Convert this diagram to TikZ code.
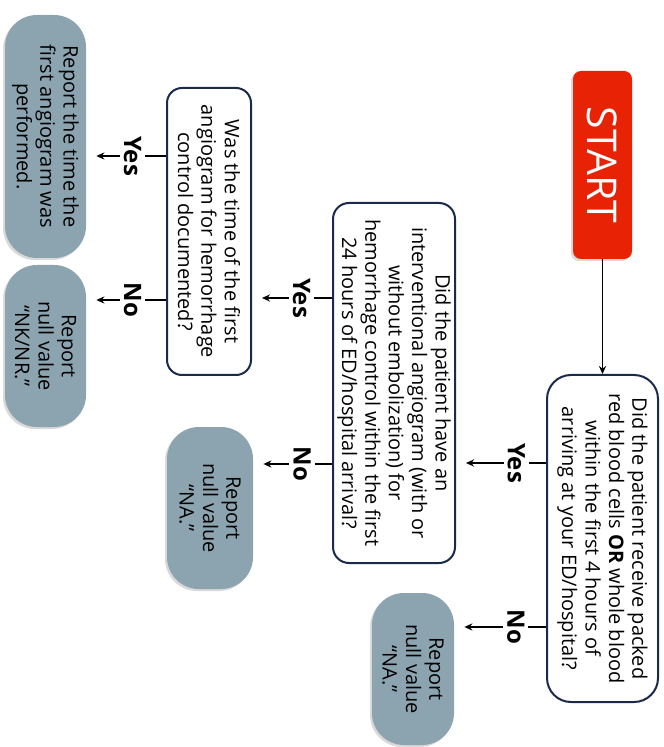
\documentclass[tikz,border=0pt]{standalone}
\usepackage{fontspec}
\setmainfont{Open Sans}
\usetikzlibrary{arrows.meta,positioning,calc,shadows}
\definecolor{startred}{RGB}{232,34,4}
\definecolor{qnavy}{RGB}{27,42,74}
\definecolor{rpgray}{RGB}{140,164,176}

\begin{document}
\begin{tikzpicture}[
  x=0.5pt, y=-0.5pt,
  >={Stealth[length=4pt,width=3.6pt]},
  every node/.style={align=center, rotate=-90},
  txt/.style     = {font=\fontsize{10}{11.7}\selectfont, text=black},
  startnd/.style = {fill=startred, rounded corners=4pt, text=white,
                    font=\fontsize{20.5}{24}\selectfont,
                    minimum width=94pt, minimum height=29.5pt,
                    drop shadow={shadow xshift=-1pt, shadow yshift=-1pt, opacity=.3}},
  qbox/.style    = {txt, draw=qnavy, line width=1pt, fill=white, inner sep=1pt},
  rpbox/.style   = {txt, fill=rpgray, rounded corners=16pt, inner sep=1pt,
                    drop shadow={shadow xshift=-1pt, shadow yshift=-1pt, opacity=.3}},
  yn/.style      = {font=\fontsize{12}{14}\selectfont\bfseries, fill=white, inner sep=2pt},
  flow/.style    = {->, line width=0.6pt},
  branch/.style  = {flow, shorten >=5pt}
]
\useasboundingbox (0,0) rectangle (663,747);

\node[startnd] (start) at (602.5,165) {START};
\node[qbox, rounded corners=12pt, minimum width=163.5pt, minimum height=55.5pt] (q1) at (602.5,538.5)
  {Did the patient receive packed\\ red blood cells \textbf{OR} whole blood\\
   within the first 4 hours of\\ arriving at your ED/hospital?};
\node[qbox, rounded corners=8pt, minimum width=180pt, minimum height=61pt] (q2) at (394,383)
  {Did the patient have an\\ interventional angiogram (with or\\ without embolization) for\\
   hemorrhage control within the first\\ 24 hours of ED/hospital arrival?};
\node[qbox, rounded corners=7.5pt, minimum width=143.5pt, minimum height=42pt] (q3) at (209,231.5)
  {Was the time of the first\\ angiogram for hemorrhage\\ control documented?};

\node[rpbox, minimum width=121.5pt, minimum height=40.5pt] (rtime) at (45.5,136.5)
  {Report the time the\\ first angiogram was\\ performed.};
\node[rpbox, minimum width=81pt, minimum height=40.5pt] (rnknr) at (45.5,346)
  {Report\\ null value\\ “NK/NR.”};
\node[rpbox, minimum width=81pt, minimum height=43pt] (rnaq2) at (210,508)
  {Report\\ null value\\ “NA.”};
\node[rpbox, minimum width=76pt, minimum height=41pt] (rnaq1) at (413,669)
  {Report\\ null value\\ “NA.”};

% branch heights
\coordinate (q1yes) at (0,463);
\coordinate (q1no)  at (0,627);
\coordinate (q2yes) at (0,298);
\coordinate (q2no)  at (0,464);
\coordinate (q3yes) at (0,156);
\coordinate (q3no)  at (0,300);

\draw[flow] (start) -- (q1);
\draw[branch] (q1.south |- q1yes) -- node[yn, pos=.33] {Yes} (q2.north |- q1yes);
\draw[branch] (q1.south |- q1no) -- node[yn, pos=.33] {No} (rnaq1.north |- q1no);
\draw[branch] (q2.south |- q2yes) -- node[yn, pos=.38] {Yes} (q3.north |- q2yes);
\draw[branch] (q2.south |- q2no) -- node[yn, pos=.38] {No} (rnaq2.north |- q2no);
\draw[branch] (q3.south |- q3yes) -- node[yn, pos=.42] {Yes} (rtime.north |- q3yes);
\draw[branch] (q3.south |- q3no) -- node[yn, pos=.42] {No} (rnknr.north |- q3no);
\end{tikzpicture}
\end{document}
